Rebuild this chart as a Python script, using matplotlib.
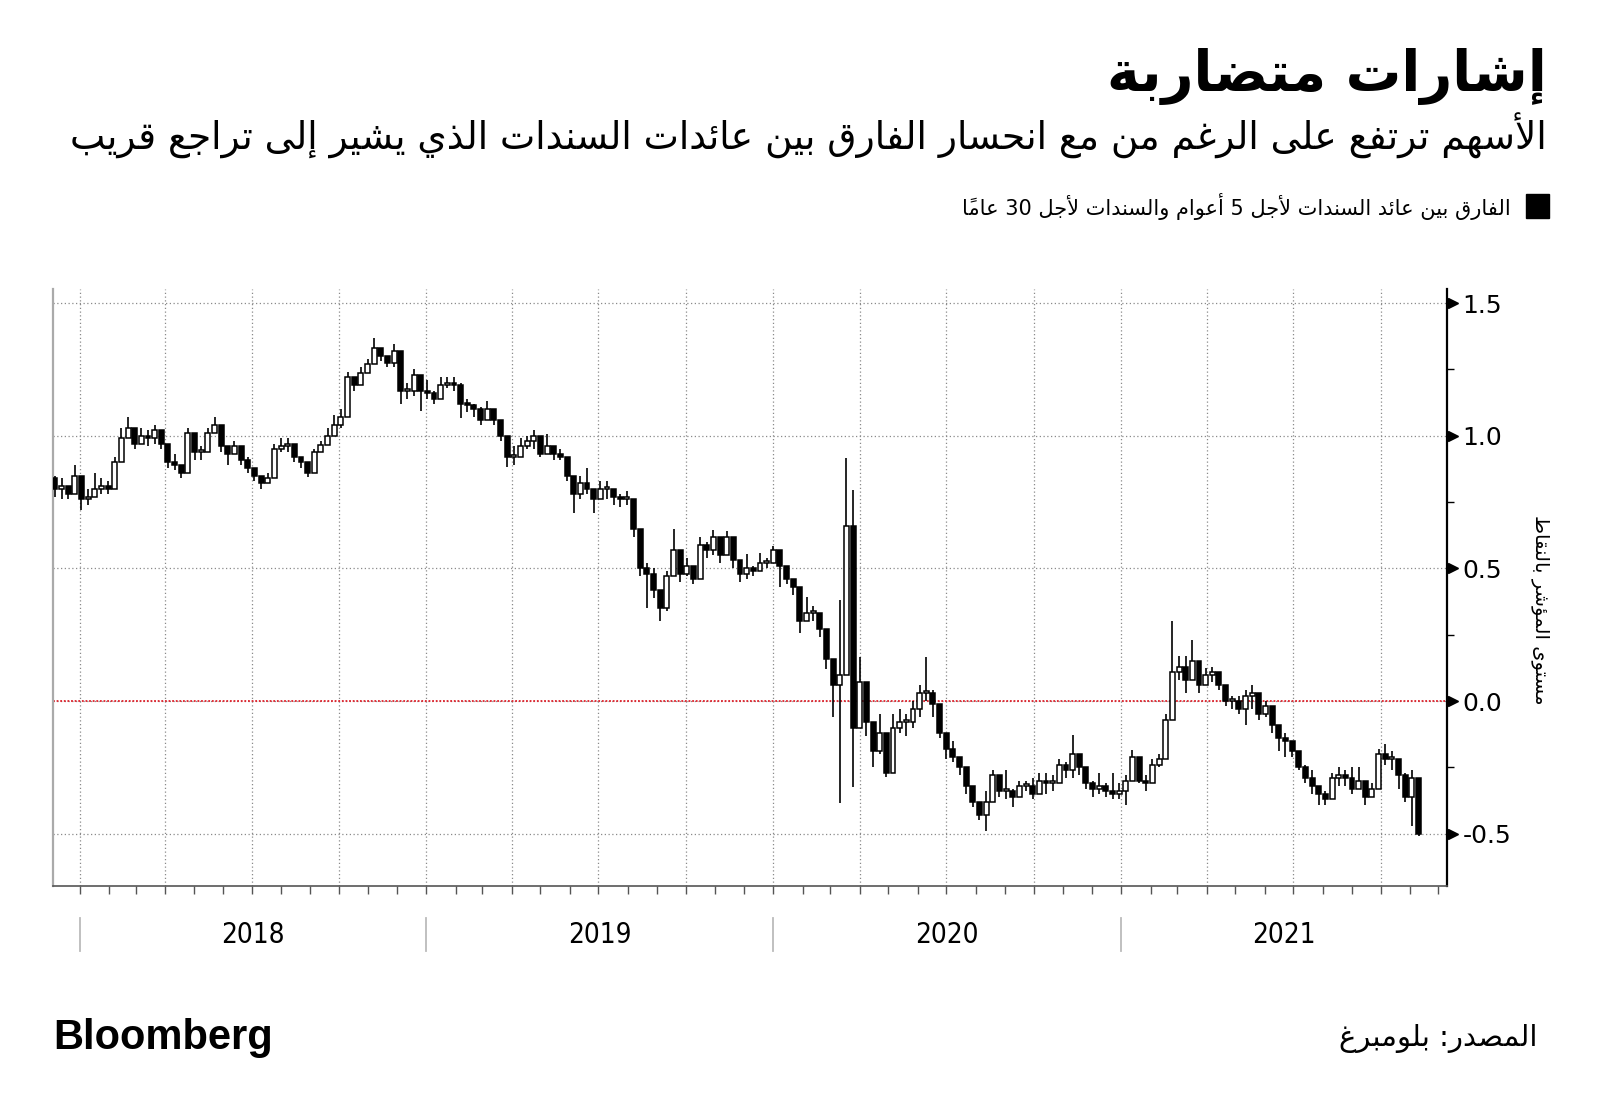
import numpy as np
import pandas as pd
import matplotlib
matplotlib.use("Agg")
import matplotlib.pyplot as plt
import matplotlib.dates as mdates
from matplotlib.patches import Rectangle
from matplotlib.transforms import blended_transform_factory

# ---- data: weekly OHLC of the 5y-30y spread ----
start_week = "2017-12-06"
first_open = 0.84
close = [
    0.80, 0.81, 0.78, 0.85, 0.76, 0.77, 0.80, 0.81, 0.80, 0.90,
    0.99, 1.03, 0.97, 1.00, 0.99, 1.02, 0.97, 0.90, 0.89, 0.86,
    1.01, 0.94, 0.94, 1.01, 1.04, 0.96, 0.93, 0.96, 0.91, 0.88,
    0.85, 0.82, 0.84, 0.95, 0.96, 0.97, 0.92, 0.90, 0.86, 0.94,
    0.965, 1.00, 1.04, 1.07, 1.22, 1.19, 1.235, 1.27, 1.33, 1.30,
    1.275, 1.32, 1.17, 1.17, 1.23, 1.17, 1.16, 1.14, 1.19, 1.20,
    1.19, 1.12, 1.115, 1.10, 1.06, 1.10, 1.06, 1.00, 0.92, 0.92,
    0.96, 0.98, 1.00, 0.93, 0.96, 0.93, 0.92, 0.85, 0.78, 0.82,
    0.80, 0.76, 0.80, 0.80, 0.77, 0.76, 0.76, 0.65, 0.50, 0.48,
    0.42, 0.35, 0.47, 0.57, 0.48, 0.51, 0.46, 0.59, 0.57, 0.62,
    0.55, 0.62, 0.53, 0.48, 0.50, 0.49, 0.52, 0.52, 0.57, 0.51,
    0.46, 0.43, 0.30, 0.33, 0.33, 0.27, 0.16, 0.06, 0.10, 0.66,
    -0.10, 0.07, -0.08, -0.19, -0.12, -0.27, -0.10, -0.08, -0.08, -0.03,
    0.03, 0.03, -0.01, -0.12, -0.18, -0.21, -0.25, -0.32, -0.38, -0.43,
    -0.38, -0.28, -0.34, -0.34, -0.36, -0.32, -0.32, -0.35, -0.30, -0.31,
    -0.31, -0.24, -0.26, -0.20, -0.25, -0.31, -0.33, -0.32, -0.34, -0.35,
    -0.34, -0.30, -0.21, -0.30, -0.31, -0.24, -0.22, -0.07, 0.11, 0.13,
    0.08, 0.15, 0.06, 0.10, 0.11, 0.06, 0.00, 0.00, -0.03, 0.02,
    0.03, -0.05, -0.02, -0.09, -0.14, -0.15, -0.19, -0.25, -0.29, -0.32,
    -0.35, -0.37, -0.29, -0.28, -0.29, -0.33, -0.30, -0.36, -0.33, -0.20,
    -0.22, -0.22, -0.28, -0.36, -0.29, -0.50,
]
high = [
    0.85, 0.84, 0.80, 0.89, 0.82, 0.80, 0.86, 0.84, 0.83, 0.92,
    1.03, 1.07, 1.02, 1.03, 1.02, 1.04, 1.00, 0.96, 0.93, 0.89,
    1.03, 0.97, 0.96, 1.03, 1.07, 1.01, 0.96, 0.98, 0.95, 0.92,
    0.87, 0.84, 0.86, 0.97, 0.99, 0.99, 0.95, 0.92, 0.89, 0.95,
    0.98, 1.03, 1.08, 1.10, 1.24, 1.22, 1.26, 1.29, 1.37, 1.33,
    1.30, 1.345, 1.26, 1.20, 1.25, 1.20, 1.21, 1.17, 1.22, 1.22,
    1.22, 1.20, 1.14, 1.12, 1.11, 1.13, 1.08, 1.04, 0.96, 0.96,
    0.99, 1.00, 1.02, 0.96, 1.005, 0.96, 0.95, 0.89, 0.83, 0.85,
    0.877, 0.80, 0.83, 0.83, 0.80, 0.78, 0.79, 0.72, 0.60, 0.52,
    0.50, 0.40, 0.49, 0.65, 0.54, 0.54, 0.50, 0.62, 0.60, 0.645,
    0.58, 0.64, 0.58, 0.51, 0.556, 0.51, 0.557, 0.54, 0.584, 0.55,
    0.50, 0.45, 0.36, 0.393, 0.36, 0.31, 0.20, 0.10, 0.38, 0.915,
    0.795, 0.167, 0.03, -0.10, -0.05, -0.15, -0.05, -0.03, -0.05, 0.00,
    0.06, 0.167, 0.04, -0.05, -0.14, -0.15, -0.22, -0.27, -0.33, -0.40,
    -0.34, -0.26, -0.31, -0.26, -0.33, -0.30, -0.30, -0.29, -0.27, -0.27,
    -0.28, -0.22, -0.23, -0.128, -0.20, -0.28, -0.30, -0.27, -0.31, -0.27,
    -0.31, -0.28, -0.185, -0.26, -0.28, -0.22, -0.20, -0.05, 0.30, 0.17,
    0.17, 0.23, 0.14, 0.123, 0.13, 0.10, 0.03, 0.02, 0.02, 0.04,
    0.06, 0.01, 0.00, -0.06, -0.12, -0.12, -0.16, -0.22, -0.24, -0.26,
    -0.32, -0.34, -0.27, -0.25, -0.26, -0.25, -0.25, -0.33, -0.31, -0.18,
    -0.16, -0.19, -0.25, -0.27, -0.26, -0.31,
]
low = [
    0.77, 0.76, 0.76, 0.80, 0.72, 0.74, 0.77, 0.78, 0.78, 0.85,
    0.93, 0.99, 0.95, 0.97, 0.96, 0.97, 0.95, 0.88, 0.87, 0.84,
    0.94, 0.91, 0.91, 0.96, 1.01, 0.94, 0.89, 0.93, 0.89, 0.86,
    0.83, 0.80, 0.82, 0.88, 0.94, 0.94, 0.90, 0.88, 0.845, 0.87,
    0.94, 0.98, 1.02, 1.03, 1.12, 1.17, 1.20, 1.24, 1.29, 1.28,
    1.26, 1.26, 1.12, 1.14, 1.15, 1.094, 1.14, 1.12, 1.16, 1.18,
    1.17, 1.065, 1.09, 1.07, 1.04, 1.08, 1.04, 0.98, 0.883, 0.89,
    0.93, 0.95, 0.95, 0.92, 0.93, 0.91, 0.91, 0.83, 0.71, 0.76,
    0.78, 0.71, 0.77, 0.76, 0.74, 0.73, 0.74, 0.62, 0.47, 0.35,
    0.39, 0.30, 0.34, 0.52, 0.45, 0.47, 0.44, 0.52, 0.54, 0.55,
    0.52, 0.57, 0.50, 0.45, 0.46, 0.47, 0.49, 0.50, 0.53, 0.431,
    0.44, 0.40, 0.257, 0.30, 0.30, 0.24, 0.12, -0.06, -0.386, 0.30,
    -0.323, -0.06, -0.13, -0.25, -0.20, -0.285, -0.25, -0.12, -0.13, -0.10,
    -0.06, 0.00, -0.06, -0.14, -0.22, -0.23, -0.28, -0.35, -0.40, -0.45,
    -0.49, -0.36, -0.36, -0.37, -0.40, -0.35, -0.34, -0.37, -0.35, -0.35,
    -0.34, -0.30, -0.29, -0.29, -0.28, -0.33, -0.36, -0.35, -0.36, -0.37,
    -0.37, -0.39, -0.27, -0.31, -0.34, -0.30, -0.25, -0.20, 0.00, 0.08,
    0.03, 0.10, 0.03, 0.06, 0.07, 0.04, -0.02, -0.03, -0.05, -0.09,
    -0.03, -0.07, -0.06, -0.12, -0.19, -0.21, -0.21, -0.26, -0.31, -0.35,
    -0.39, -0.39, -0.33, -0.32, -0.32, -0.35, -0.32, -0.39, -0.35, -0.27,
    -0.24, -0.26, -0.33, -0.38, -0.47, -0.51,
]

years = [2018, 2019, 2020, 2021]
y_ticks = [-0.5, 0.0, 0.5, 1.0, 1.5]

title = "إشارات متضاربة"
subtitle = "الأسهم ترتفع على الرغم من مع انحسار الفارق بين عائدات السندات الذي يشير إلى تراجع قريب"
legend_label = "الفارق بين عائد السندات لأجل 5 أعوام والسندات لأجل 30 عاماً"
y_label = "مستوى المؤشر بالنقاط"
source = "المصدر: بلومبرغ"


# ---- minimal Arabic shaping (matplotlib has no complex text layout) ----
AR_FORMS = {}
_code = 0xFE80
_letters = [chr(c) for c in range(0x621, 0x63B)] + [chr(c) for c in range(0x641, 0x64B)]
_nforms = [1, 2, 2, 2, 2, 4, 2, 4, 2, 4, 4, 4, 4, 4, 2, 2, 2, 2, 4, 4,
           4, 4, 4, 4, 4, 4, 4, 4, 4, 4, 4, 4, 4, 2, 2, 4]
for _ch, _n in zip(_letters, _nforms):
    AR_FORMS[_ch] = (_code, _n)
    _code += _n
LAM_ALEF = {"\u0622": 0xFEF5, "\u0623": 0xFEF7, "\u0625": 0xFEF9, "\u0627": 0xFEFB}


def is_mark(c):
    return "\u064b" <= c <= "\u0652"


def ar(text):
    chars = list(text)
    n = len(chars)

    def prev_letter(k):
        j = k - 1
        while j >= 0 and is_mark(chars[j]):
            j -= 1
        return chars[j] if j >= 0 else None

    def next_index(k):
        j = k + 1
        while j < n and is_mark(chars[j]):
            j += 1
        return j

    clusters = []
    i = 0
    while i < n:
        c = chars[i]
        if is_mark(c) and clusters:
            clusters[-1] += c
            i += 1
            continue
        if c in AR_FORMS:
            p = prev_letter(i)
            joins_prev = p in AR_FORMS and AR_FORMS[p][1] == 4
            j = next_index(i)
            nxt = chars[j] if j < n else None
            if c == "\u0644" and nxt in LAM_ALEF:
                clusters.append(chr(LAM_ALEF[nxt] + (1 if joins_prev else 0)))
                i = j + 1
                continue
            base, nf = AR_FORMS[c]
            joins_next = nf == 4 and nxt in AR_FORMS and AR_FORMS[nxt][1] > 1
            if nf == 1:
                form = base
            elif nf == 2:
                form = base + (1 if joins_prev else 0)
            else:
                if joins_prev and joins_next:
                    form = base + 3
                elif joins_prev:
                    form = base + 1
                elif joins_next:
                    form = base + 2
                else:
                    form = base
            clusters.append(chr(form))
        elif c.isdigit() and clusters and clusters[-1][-1].isdigit():
            clusters[-1] += c
        else:
            clusters.append(c)
        i += 1
    return "".join(reversed(clusters))


AR_FONT = ["DejaVu Sans"]

# ---- figure ----
fig = plt.figure(figsize=(16, 11.15), dpi=100)
ax = fig.add_axes([0.0331, 0.2054, 0.8713, 0.5354])

dates = pd.date_range(start_week, periods=len(close), freq="7D")
x = mdates.date2num(dates)
cls = np.array(close)
opn = np.r_[first_open, cls[:-1]]
hi = np.maximum.reduce([np.array(high), opn, cls])
lo = np.minimum.reduce([np.array(low), opn, cls])
up = cls >= opn
body_lo = np.minimum(opn, cls)
body_h = np.maximum(np.abs(cls - opn), 0.008)

ax.vlines(x, lo, hi, color="black", lw=1.2, zorder=3)
ax.bar(x[up], body_h[up], bottom=body_lo[up], width=5.2, color="white",
       edgecolor="black", lw=1.1, zorder=4)
ax.bar(x[~up], body_h[~up], bottom=body_lo[~up], width=5.2, color="black",
       edgecolor="black", lw=1.1, zorder=4)

ax.xaxis_date()
ax.set_xlim(mdates.date2num(pd.Timestamp("2017-12-04")),
            mdates.date2num(pd.Timestamp("2021-12-10")))
ax.set_ylim(-0.697, 1.553)

ax.xaxis.set_major_locator(mdates.MonthLocator(bymonth=[1, 4, 7, 10]))
ax.xaxis.set_minor_locator(mdates.MonthLocator())
ax.tick_params(axis="x", which="both", direction="out", length=6, width=1,
               color="#555555", labelbottom=False)

ax.yaxis.tick_right()
ax.set_yticks(y_ticks)
ax.set_yticklabels([f"{v:.1f}" for v in y_ticks])
ax.set_yticks(np.arange(-0.25, 1.5, 0.5), minor=True)
ax.tick_params(axis="y", which="major", length=0, pad=11, labelsize=18)
ax.tick_params(axis="y", which="minor", length=5, width=1, color="black")

ax.grid(True, which="major", ls=(0, (1, 2)), color="#8a8a8a", lw=0.9, zorder=0)
ax.axhline(0, color="#e0202a", ls=(0, (1, 1)), lw=1.3, zorder=2)

tr_y = blended_transform_factory(ax.transAxes, ax.transData)
ax.plot(np.full(len(y_ticks), 1.004), y_ticks, ls="none", marker=">", ms=7,
        color="black", transform=tr_y, clip_on=False, zorder=5)

ax.spines["top"].set_visible(False)
ax.spines["left"].set_color("#aaaaaa")
ax.spines["left"].set_linewidth(1.6)
ax.spines["bottom"].set_color("#555555")
ax.spines["bottom"].set_linewidth(1.2)
ax.spines["right"].set_color("black")
ax.spines["right"].set_linewidth(1.6)

# year bands under the axis
tr_x = blended_transform_factory(ax.transData, ax.transAxes)
x_lo, x_hi = ax.get_xlim()
for yr in years:
    x0 = mdates.date2num(pd.Timestamp(f"{yr}-01-01"))
    x1 = mdates.date2num(pd.Timestamp(f"{yr + 1}-01-01"))
    ax.plot([x0, x0], [-0.054, -0.109], transform=tr_x, color="#bbbbbb",
            lw=1.3, clip_on=False)
    ax.text((max(x0, x_lo) + min(x1, x_hi)) / 2, -0.082, str(yr), transform=tr_x,
            ha="center", va="center", fontsize=20, fontstretch="condensed",
            family=["DejaVu Sans"])

# ---- texts ----
fig.text(0.9669, 0.918, ar(title), ha="right", va="baseline", fontsize=40,
         fontweight="bold", family=AR_FONT)
fig.text(0.9669, 0.8655, ar(subtitle), ha="right", va="baseline", fontsize=27,
         family=AR_FONT)
fig.add_artist(Rectangle((0.9538, 0.8045), 0.0144, 0.0215, color="black",
                         transform=fig.transFigure))
fig.text(0.944, 0.807, ar(legend_label), ha="right", va="baseline", fontsize=15,
         family=AR_FONT)
fig.text(0.963, 0.453, ar(y_label), rotation=270, ha="center", va="center",
         fontsize=14, family=AR_FONT)
fig.text(0.961, 0.0619, ar(source), ha="right", va="baseline", fontsize=21,
         family=AR_FONT)
fig.text(0.0331, 0.0592, "Bloomberg", ha="left", va="baseline", fontsize=30,
         fontweight="bold", family=["Liberation Sans", "DejaVu Sans"])

fig.savefig("out.png", dpi=100, facecolor="white")
